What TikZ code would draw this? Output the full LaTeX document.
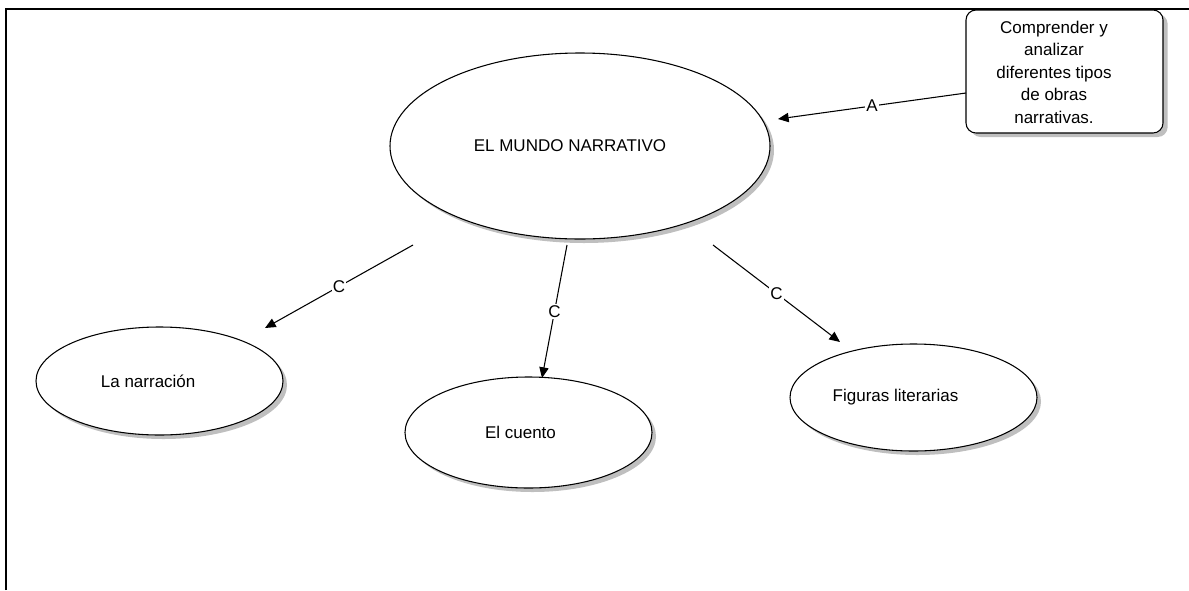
\documentclass[tikz,border=0pt]{standalone}
\usepackage{fontspec}
\setmainfont{Liberation Sans}
\usetikzlibrary{shapes.geometric,shadows,arrows.meta}

\tikzset{
  bubble/.style={ellipse, draw=black, line width=0.8pt, fill=white, inner sep=0pt,
    drop shadow={shadow xshift=3pt, shadow yshift=-3pt, fill=black!25, opacity=1}},
  notebox/.style={rectangle, rounded corners=7.5pt, draw=black, line width=0.8pt, fill=white,
    drop shadow={shadow xshift=3.5pt, shadow yshift=-3pt, fill=black!25, opacity=1}},
  link/.style={line width=0.8pt, -{Triangle[length=8pt,width=7pt]}},
  linklabel/.style={fill=white, inner sep=1pt, font=\fontsize{12.75}{15}\selectfont},
}

\begin{document}
\begin{tikzpicture}[x=0.75pt, y=-0.75pt, font=\fontsize{12.75}{16.9}\selectfont]
  \useasboundingbox (0,0) rectangle (1189,590);

  % page frame (top and left edges)
  \draw[line width=1.9pt] (6,590) -- (6,9) -- (1189,9);

  % concept nodes
  \node[bubble, minimum width=285pt, minimum height=139.5pt,
        label={[xshift=-7.5pt]center:EL MUNDO NARRATIVO}] (main) at (580,146) {};
  \node[bubble, minimum width=185.25pt, minimum height=81pt,
        label={[xshift=-8.5pt]center:La narración}] (narr) at (159.5,381) {};
  \node[bubble, minimum width=185.25pt, minimum height=83.25pt,
        label={[xshift=-6pt]center:El cuento}] (cuento) at (528.5,432.5) {};
  \node[bubble, minimum width=185.25pt, minimum height=80.25pt,
        label={[xshift=-13.5pt]center:Figuras literarias}] (figuras) at (913.5,397.5) {};

  % objective box
  \node[notebox, minimum width=147.75pt, minimum height=92.25pt] (goal) at (1064.5,71.5) {};
  \node[align=center, inner sep=0pt] (goaltext) at (1054,72)
    {Comprender y\\analizar\\diferentes tipos\\de obras\\narrativas.};

  % connector end points
  \coordinate (aS) at (966,93);
  \coordinate (aE) at (778,119);
  \coordinate (c1S) at (413,245);
  \coordinate (c1E) at (265,328);
  \coordinate (c2S) at (567,245);
  \coordinate (c2E) at (542,378);
  \coordinate (c3S) at (713,245);
  \coordinate (c3E) at (840,342);

  % connectors
  \draw[link] (aS) -- node[linklabel] {A} (aE);
  \draw[link] (c1S) -- node[linklabel] {C} (c1E);
  \draw[link] (c2S) -- node[linklabel] {C} (c2E);
  \draw[link] (c3S) -- node[linklabel] {C} (c3E);
\end{tikzpicture}
\end{document}
